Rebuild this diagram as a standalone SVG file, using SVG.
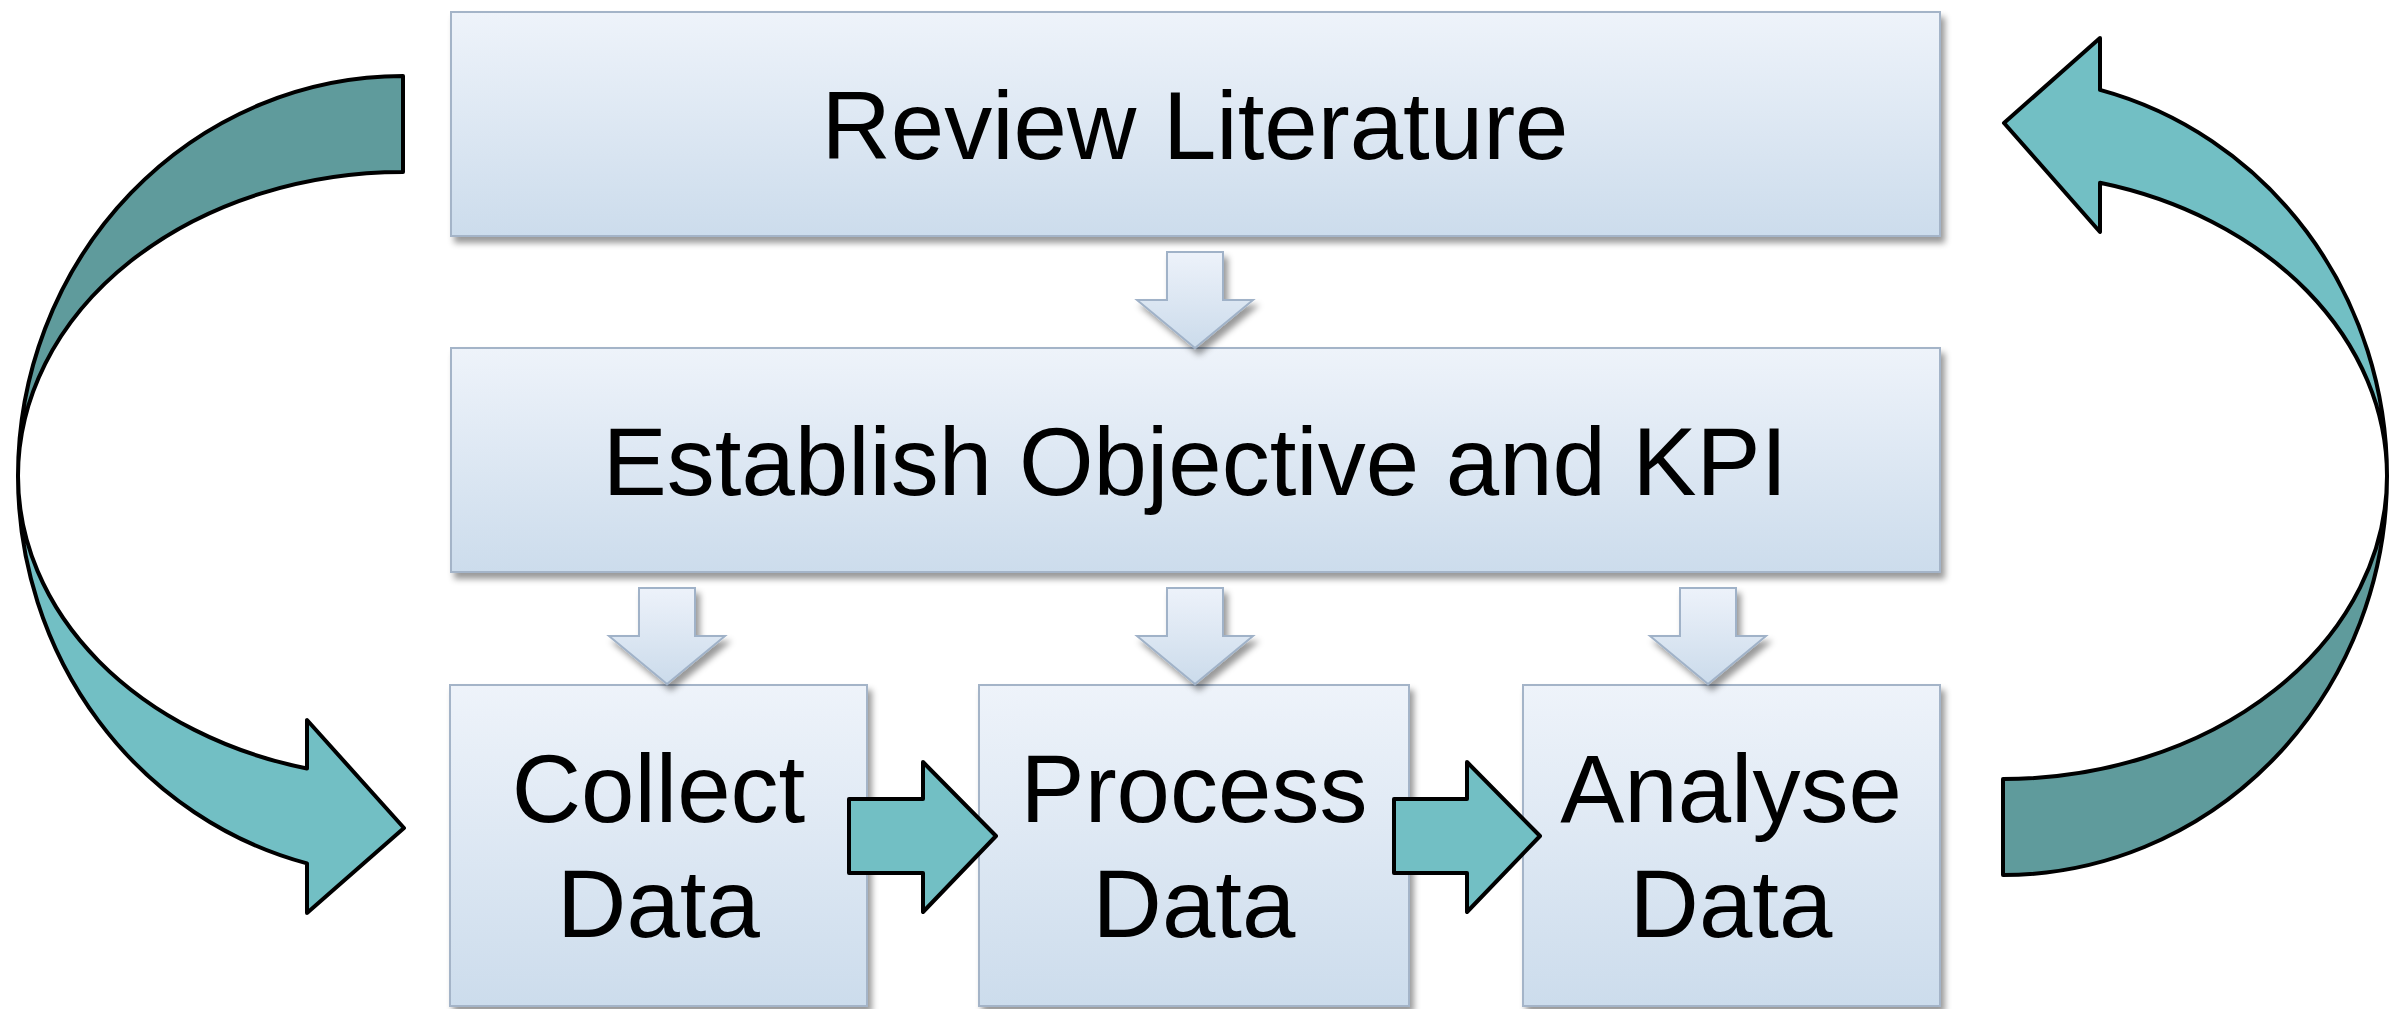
<svg xmlns="http://www.w3.org/2000/svg" width="2402" height="1009" viewBox="0 0 2402 1009">
<defs>
<linearGradient id="boxGrad" x1="0" y1="0" x2="0" y2="1">
<stop offset="0" stop-color="#EEF3FA"/>
<stop offset="1" stop-color="#CCDCEC"/>
</linearGradient>
<linearGradient id="downGrad" x1="0" y1="0" x2="0" y2="1">
<stop offset="0" stop-color="#EDF2FA"/>
<stop offset="1" stop-color="#CBDBEB"/>
</linearGradient>
<filter id="shadow" x="-10%" y="-10%" width="130%" height="130%">
<feDropShadow dx="4" dy="6" stdDeviation="3" flood-color="#000" flood-opacity="0.4"/>
</filter>
</defs>
<style>
.box{fill:url(#boxGrad);stroke:#A4B4C8;stroke-width:2;filter:url(#shadow)}
.down{fill:url(#downGrad);stroke:#A0B2C8;stroke-width:2;filter:url(#shadow)}
.label{font-family:"Liberation Sans",Arial,sans-serif;font-size:96px;fill:#000;text-anchor:middle}
.light{fill:#72BFC4;stroke:#000;stroke-width:4;stroke-linejoin:round}
.dark{fill:#5F9B9C;stroke:#000;stroke-width:4;stroke-linejoin:round}
</style>
<rect width="2402" height="1009" fill="#fff"/>

<g id="review-literature">
<rect class="box" x="451" y="12" width="1489" height="224"/>
<text class="label" x="1195" y="159">Review Literature</text>
</g>
<g id="establish-objective">
<rect class="box" x="451" y="348" width="1489" height="224"/>
<text class="label" x="1195" y="495">Establish Objective and KPI</text>
</g>
<g id="collect-data">
<rect class="box" x="450" y="685" width="417" height="321"/>
<text class="label" x="658.5" y="822">Collect</text>
<text class="label" x="658.5" y="937">Data</text>
</g>
<g id="process-data">
<rect class="box" x="979" y="685" width="430" height="321"/>
<text class="label" x="1194" y="822">Process</text>
<text class="label" x="1194" y="937">Data</text>
</g>
<g id="analyse-data">
<rect class="box" x="1523" y="685" width="417" height="321"/>
<text class="label" x="1731" y="822">Analyse</text>
<text class="label" x="1731" y="937">Data</text>
</g>

<g id="connectors">
<path class="down" d="M1167,252 H1223 V300 H1253 L1195,348 L1137,300 H1167 Z"/>
<path class="down" d="M639,588 H695 V636 H725 L667,684 L609,636 H639 Z"/>
<path class="down" d="M1167,588 H1223 V636 H1253 L1195,684 L1137,636 H1167 Z"/>
<path class="down" d="M1680,588 H1736 V636 H1766 L1708,684 L1650,636 H1680 Z"/>

<path class="light" d="M849,799 H923 V762 L996,836 L923,912 V873 H849 Z"/>
<path class="light" d="M1394,799 H1467 V762 L1540,836 L1467,912 V873 H1394 Z"/>

<path class="dark" d="M403,76 A385,400 0 0 0 18,476 A385,304 0 0 1 403,172 Z"/>
<path class="light" d="M18,476 A385,400 0 0 0 307,863.4 L307,913 L404,828 L307,720 L307,768.5 A385,302 0 0 1 18,476 Z"/>

<path class="light" d="M2387,476 A384,399 0 0 0 2100,89.9 L2100,38 L2004,123 L2100,232 L2100,182.8 A384,303 0 0 1 2387,476 Z"/>
<path class="dark" d="M2387,476 A384,399 0 0 1 2003,875 L2003,779 A384,303 0 0 0 2387,476 Z"/>
</g>
</svg>
